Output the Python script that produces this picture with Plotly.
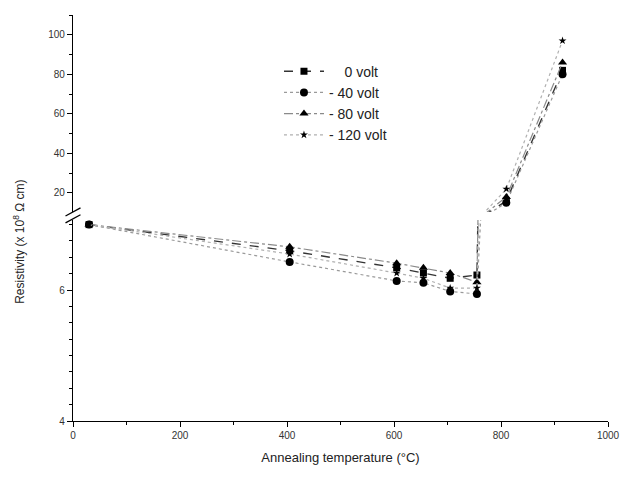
import plotly.graph_objects as go

# Annealing temperatures (°C)
temperature = [30, 405, 605, 655, 705, 755, 810, 915]

# Resistivity for each substrate bias (x 10^8 ohm cm)
res_0v = [7.00, 6.60, 6.34, 6.26, 6.18, 6.23, 16, 82]
res_40v = [7.00, 6.43, 6.14, 6.11, 5.98, 5.94, 15, 80]
res_80v = [7.00, 6.66, 6.41, 6.34, 6.26, 6.12, 18, 86]
res_120v = [7.00, 6.55, 6.26, 6.18, 6.03, 6.03, 22, 97]

series = [
    ("\u00a0\u00a0\u00a0\u00a00 volt", res_0v, "square", 7, dict(color="#333333", width=1.4, dash="dash")),
    ("- 40 volt", res_40v, "circle", 8, dict(color="#9a9a9a", width=1.2, dash="dot")),
    ("- 80 volt", res_80v, "triangle-up", 8, dict(color="#8a8a8a", width=1.2, dash="dashdot")),
    ("- 120 volt", res_120v, "star", 6, dict(color="#b0b0b0", width=1.2, dash="dot")),
]

fig = go.Figure()

# Each series is drawn on both halves of the broken y axis
for name, vals, sym, size, line in series:
    for yax, show in (("y", False), ("y2", True)):
        fig.add_trace(go.Scatter(
            x=temperature, y=vals, name=name, mode="lines+markers",
            xaxis="x", yaxis=yax, showlegend=show,
            line=line,
            marker=dict(symbol=sym, size=size, color="black"),
        ))

tick_font = dict(family="Liberation Sans, Arial, sans-serif", size=10, color="#333333")
axis_common = dict(
    showline=True, linecolor="black", linewidth=1.3, mirror=False,
    ticks="outside", ticklen=5, tickwidth=1.2, tickcolor="black",
    showgrid=False, zeroline=False, tickfont=tick_font,
)

fig.update_layout(
    width=631, height=486,
    margin=dict(l=73, r=23, t=15, b=65),
    paper_bgcolor="white", plot_bgcolor="white",
    xaxis=dict(range=[0, 1000], dtick=200, anchor="y",
               minor=dict(dtick=100, ticks="outside", ticklen=3, tickcolor="black"),
               title=dict(text="Annealing temperature (°C)",
                          font=dict(family="Liberation Sans, Arial, sans-serif", size=13, color="#222222"),
                          standoff=12),
               **axis_common),
    yaxis=dict(domain=[0, 0.495], range=[4, 7.07], tickvals=[4, 6], anchor="x",
               minor=dict(dtick=0.25, ticks="outside", ticklen=3, tickcolor="black"),
               **axis_common),
    yaxis2=dict(domain=[0.515, 1], range=[10.4, 110], tickvals=[20, 40, 60, 80, 100], anchor="x",
                minor=dict(dtick=10, ticks="outside", ticklen=3, tickcolor="black"),
                **axis_common),
    legend=dict(x=0.385, y=0.9, xanchor="left", yanchor="top",
                bgcolor="rgba(0,0,0,0)", tracegroupgap=0,
                font=dict(family="Liberation Sans, Arial, sans-serif", size=14, color="#222222"),
                itemwidth=40),
    showlegend=True,
)

# Axis title spanning both halves
fig.add_annotation(
    text="Resistivity (x 10<sup>8</sup> Ω cm)", textangle=-90,
    xref="paper", yref="paper", x=-0.10, y=0.44, xanchor="center", yanchor="middle",
    showarrow=False,
    font=dict(family="Liberation Sans, Arial, sans-serif", size=12, color="#222222"),
)

# Break marks on the y axis
for y0 in (0.488, 0.505):
    fig.add_shape(type="line", xref="paper", yref="paper",
                  x0=-0.014, y0=y0, x1=0.014, y1=y0 + 0.02,
                  line=dict(color="black", width=1.3))

fig.write_html("out.html")
